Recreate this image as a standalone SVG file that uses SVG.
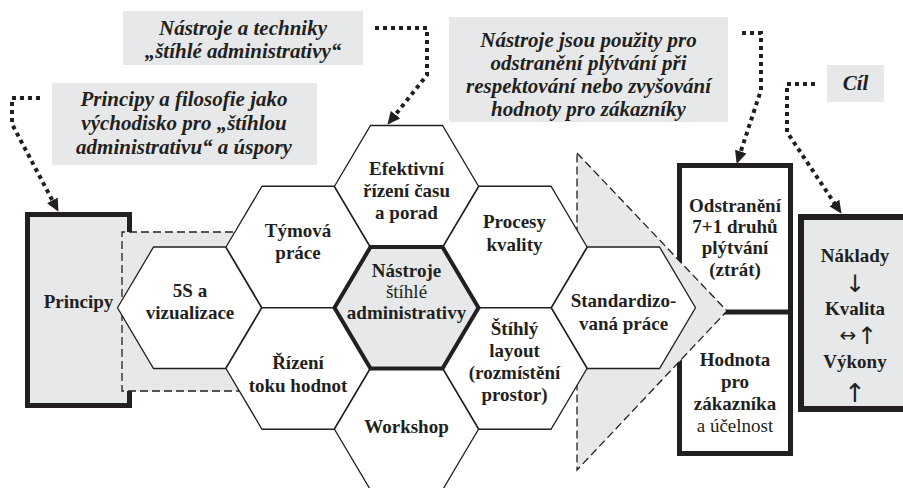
<svg xmlns="http://www.w3.org/2000/svg" xmlns:xlink="http://www.w3.org/1999/xlink" width="903" height="488" viewBox="0 0 903 488">
<style>
  .cap { fill: #e7e8e9; }
  .capt { font-family: "Liberation Serif", "Times New Roman", serif; font-size: 21px; font-weight: bold; font-style: italic; fill: #231f20; text-anchor: middle; }
  .t { font-family: "Liberation Serif", "Times New Roman", serif; font-size: 19px; font-weight: bold; fill: #231f20; text-anchor: middle; }
  .r { font-weight: normal; }
  .hex { fill: #ffffff; stroke: #231f20; stroke-width: 1.3; stroke-linejoin: miter; }
  .hexc { fill: #e7e8e9; stroke: #231f20; stroke-width: 4; stroke-linejoin: miter; }
  .box { stroke: #231f20; stroke-width: 5; }
  .gray { fill: #e7e8e9; }
  .dash { fill: none; stroke: #231f20; stroke-width: 1.3; stroke-dasharray: 8 4; }
  .dot { fill: none; stroke: #231f20; stroke-width: 4; stroke-dasharray: 4 4; }
  .arr { font-family: "DejaVu Sans", "DejaVu Serif", sans-serif; font-weight: normal; fill: #231f20; text-anchor: middle; }
</style>
<defs>
  <polygon id="hx" points="-72,0 -36,-60.75 36,-60.75 72,0 36,60.75 -36,60.75"/>
  <marker id="ah" markerUnits="userSpaceOnUse" markerWidth="13" markerHeight="12" refX="3" refY="6" orient="auto" viewBox="0 0 13 12">
    <path d="M0,0 L13,6 L0,12 z" fill="#231f20"/>
  </marker>
</defs>

<!-- captions -->
<g id="cap-principy">
  <rect class="cap" x="52" y="83" width="265" height="82"/>
  <text class="capt" x="184" y="106">Principy a filosofie jako</text>
  <text class="capt" x="184" y="130">východisko pro „štíhlou</text>
  <text class="capt" x="184" y="154">administrativu“ a úspory</text>
</g>
<g id="cap-nastroje">
  <rect class="cap" x="123" y="11" width="240" height="54"/>
  <text class="capt" x="243" y="35">Nástroje a techniky</text>
  <text class="capt" x="243" y="58">„štíhlé administrativy“</text>
</g>
<g id="cap-pouzity">
  <rect class="cap" x="449" y="17" width="279" height="105"/>
  <text class="capt" x="588.5" y="47">Nástroje jsou použity pro</text>
  <text class="capt" x="588.5" y="70">odstranění plýtvání při</text>
  <text class="capt" x="588.5" y="93">respektování nebo zvyšování</text>
  <text class="capt" x="588.5" y="116">hodnoty pro zákazníky</text>
</g>
<g id="cap-cil">
  <rect class="cap" x="827" y="65" width="57" height="37"/>
  <text class="capt" x="855.5" y="90">Cíl</text>
</g>

<!-- boxes -->
<g id="principy">
  <rect class="box gray" x="27.5" y="214.5" width="102" height="191"/>
  <text class="t" x="78.5" y="308">Principy</text>
</g>
<g id="vysledky">
  <rect class="box" fill="#ffffff" x="679.5" y="165.5" width="111" height="288"/>
  <line class="box" x1="679.5" y1="312" x2="790.5" y2="312"/>
  <text class="t" x="735" y="212">Odstranění</text>
  <text class="t" x="735" y="233">7+1 druhů</text>
  <text class="t" x="735" y="254">plýtvání</text>
  <text class="t" x="735" y="276">(ztrát)</text>
  <text class="t" x="735" y="366">Hodnota</text>
  <text class="t" x="735" y="388">pro</text>
  <text class="t" x="735" y="410">zákazníka</text>
  <text class="t r" x="735" y="432">a účelnost</text>
</g>
<g id="cil">
  <rect class="gray" x="801" y="217" width="120" height="192" stroke="#231f20" stroke-width="6"/>
  <text class="t" x="855" y="262">Náklady</text>
  <text class="arr" x="855" y="292" font-size="24">↓</text>
  <text class="t" x="855" y="315">Kvalita</text>
  <text class="arr" x="848" y="342" font-size="20">↔</text>
  <text class="arr" x="867" y="344" font-size="24">↑</text>
  <text class="t" x="855" y="368">Výkony</text>
  <text class="arr" x="855" y="402" font-size="26">↑</text>
</g>

<!-- gray background shapes -->
<g id="zaklad">
  <rect class="gray" x="122" y="232" width="128" height="159"/>
  <path class="dash" d="M245,232 H122 V391 H245"/>
</g>
<g id="sipka">
  <polygon class="gray" points="577,153 727,311 577,470"/>
  <polygon class="dash" points="577,153 727,311 577,470"/>
</g>

<!-- hexagons -->
<g id="h-5s">
  <use xlink:href="#hx" class="hex" x="189.5" y="307.75"/>
  <text class="t" x="190" y="297">5S a</text>
  <text class="t" x="190" y="319">vizualizace</text>
</g>
<g id="h-tymova">
  <use xlink:href="#hx" class="hex" x="298" y="247"/>
  <text class="t" x="298" y="237">Týmová</text>
  <text class="t" x="298" y="259">práce</text>
</g>
<g id="h-rizeni">
  <use xlink:href="#hx" class="hex" x="298" y="368.5"/>
  <text class="t" x="298" y="369">Řízení</text>
  <text class="t" x="298" y="392">toku hodnot</text>
</g>
<g id="h-efektivni">
  <use xlink:href="#hx" class="hex" x="406.5" y="186.25"/>
  <text class="t" x="406.5" y="175">Efektivní</text>
  <text class="t" x="406.5" y="197">řízení času</text>
  <text class="t" x="406.5" y="219">a porad</text>
</g>
<g id="h-workshop">
  <use xlink:href="#hx" class="hex" x="406.5" y="429.25"/>
  <text class="t" x="406.5" y="433">Workshop</text>
</g>
<g id="h-procesy">
  <use xlink:href="#hx" class="hex" x="515" y="247"/>
  <text class="t" x="514.5" y="228">Procesy</text>
  <text class="t" x="514.5" y="251">kvality</text>
</g>
<g id="h-layout">
  <use xlink:href="#hx" class="hex" x="515" y="368.5"/>
  <text class="t" x="514.5" y="335">Štíhlý</text>
  <text class="t" x="514.5" y="357">layout</text>
  <text class="t" x="514.5" y="379">(rozmístění</text>
  <text class="t" x="514.5" y="401">prostor)</text>
</g>
<g id="h-standard">
  <use xlink:href="#hx" class="hex" x="623.5" y="307.75"/>
  <text class="t" x="623.5" y="307">Standardizo-</text>
  <text class="t" x="623.5" y="330">vaná práce</text>
</g>
<g id="h-nastroje">
  <use xlink:href="#hx" class="hexc" x="406.5" y="307.75"/>
  <text class="t" x="406.5" y="277">Nástroje</text>
  <text class="t r" x="406.5" y="298">štíhlé</text>
  <text class="t" x="406.5" y="319">administrativy</text>
</g>

<!-- connectors -->
<g id="connectors">
  <path class="dot" d="M40,98 H12 V124 L53.8,203" marker-end="url(#ah)"/>
  <path class="dot" d="M375,28 H427 V75 L393.6,117" marker-end="url(#ah)"/>
  <path class="dot" d="M742,33 H761 V90 L739.8,154.4" marker-end="url(#ah)"/>
  <path class="dot" d="M815,84 H787 V132 L836,205.5" marker-end="url(#ah)"/>
</g>
</svg>
